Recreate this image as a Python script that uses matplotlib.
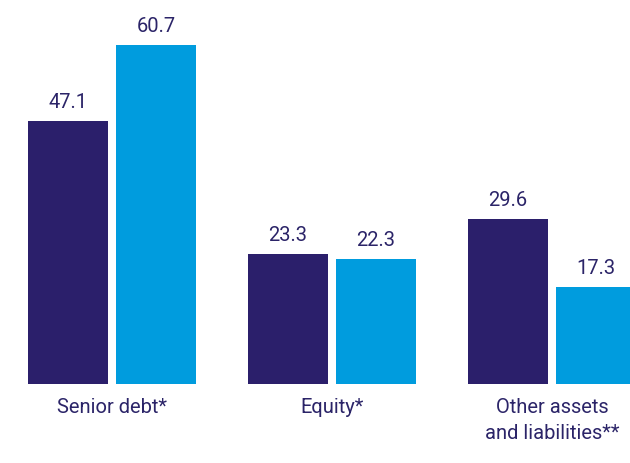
import numpy as np
import matplotlib
matplotlib.use('Agg')
import matplotlib.pyplot as plt

# data
categories = ['Senior debt*', 'Equity*', 'Other assets\nand liabilities**']
series_a = [47.1, 23.3, 29.6]   # dark navy
series_b = [60.7, 22.3, 17.3]   # light blue

navy = '#2B1F6B'
blue = '#009CDE'
txt = '#2B2468'

plt.rcParams['font.family'] = ['Roboto', 'DejaVu Sans']

fig = plt.figure(figsize=(6.3, 4.63), dpi=100)
ax = fig.add_axes([0, 79/463, 1, 384/463])

x = np.arange(len(categories))
w = 80/220
off = 44/220
ax.bar(x - off, series_a, w, color=navy)
ax.bar(x + off, series_b, w, color=blue)

for xi, a, b in zip(x, series_a, series_b):
    ax.text(xi - off, a + 1.6, f'{a:.1f}', ha='center', va='bottom', fontsize=14.5, color=txt)
    ax.text(xi + off, b + 1.6, f'{b:.1f}', ha='center', va='bottom', fontsize=14.5, color=txt)

ax.set_xlim(-112/220, (630-112)/220)
ax.set_ylim(0, 384/5.588)
ax.set_xticks(x)
ax.set_xticklabels(categories, fontsize=14.5, color=txt, linespacing=1.45)
ax.tick_params(axis='x', length=0, pad=10)
ax.set_yticks([])
for s in ax.spines.values():
    s.set_visible(False)

fig.savefig('out.png', dpi=100)
